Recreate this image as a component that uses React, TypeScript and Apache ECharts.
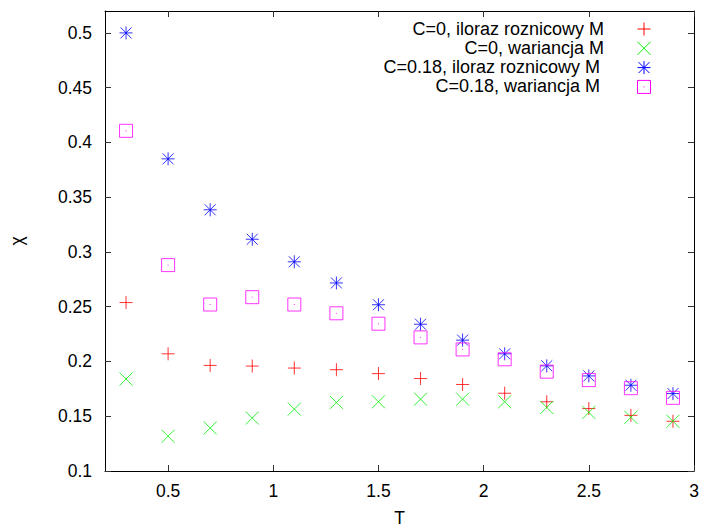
import React, { useEffect, useRef } from "react";
import * as echarts from "echarts";

const T = [0.3, 0.5, 0.7, 0.9, 1.1, 1.3, 1.5, 1.7, 1.9, 2.1, 2.3, 2.5, 2.7, 2.9];
const iloraz0 = [0.2538, 0.207, 0.1964, 0.1958, 0.194, 0.1925, 0.1889, 0.1844, 0.179, 0.171, 0.1632, 0.157, 0.1508, 0.1454];
const wariancja0 = [0.184, 0.1317, 0.1393, 0.1484, 0.1565, 0.1626, 0.1632, 0.1656, 0.1656, 0.1632, 0.158, 0.1535, 0.149, 0.1454];
const iloraz018 = [0.5, 0.385, 0.3385, 0.3116, 0.291, 0.2717, 0.2518, 0.234, 0.2195, 0.207, 0.196, 0.1868, 0.1783, 0.1707];
const wariancja018 = [0.4106, 0.288, 0.252, 0.2587, 0.252, 0.244, 0.2345, 0.222, 0.211, 0.202, 0.1907, 0.183, 0.1756, 0.1668];

const xTicks = [0.5, 1, 1.5, 2, 2.5, 3];
const yTicks = [0.1, 0.15, 0.2, 0.25, 0.3, 0.35, 0.4, 0.45, 0.5];

const seriesNames = [
  "C=0, iloraz roznicowy M",
  "C=0, wariancja M",
  "C=0.18, iloraz roznicowy M",
  "C=0.18, wariancja M",
];
const colors = ["#ff0000", "#00ee00", "#0000ff", "#ff00ff"];
const symbols = [
  "path://M0,6.5L13,6.5M6.5,0L6.5,13",
  "path://M0,0L13,13M13,0L0,13",
  "path://M0,6.5L13,6.5M6.5,0L6.5,13M1,1L12,12M12,1L1,12",
  "path://M0,0L13,0L13,13L0,13ZM6.5,6L6.5,7",
];
const seriesData = [iloraz0, wariancja0, iloraz018, wariancja018];

const FONT = "'Liberation Sans', Arial, sans-serif";

function legendMarker(i: number, cx: number, cy: number): any[] {
  const h = 6.5;
  const st = { stroke: colors[i], lineWidth: 1, fill: "none" };
  const ln = (x1: number, y1: number, x2: number, y2: number) => ({
    type: "line",
    shape: { x1, y1, x2, y2 },
    style: st,
  });
  if (i === 0) return [ln(cx - h, cy, cx + h, cy), ln(cx, cy - h, cx, cy + h)];
  if (i === 1) return [ln(cx - h, cy - h, cx + h, cy + h), ln(cx + h, cy - h, cx - h, cy + h)];
  if (i === 2)
    return [
      ln(cx - h, cy, cx + h, cy),
      ln(cx, cy - h, cx, cy + h),
      ln(cx - 5.5, cy - 5.5, cx + 5.5, cy + 5.5),
      ln(cx + 5.5, cy - 5.5, cx - 5.5, cy + 5.5),
    ];
  return [
    { type: "rect", shape: { x: cx - h, y: cy - h, width: 13, height: 13 }, style: st },
    ln(cx, cy - 0.5, cx, cy + 0.5),
  ];
}

export default function App() {
  const ref = useRef<HTMLDivElement>(null);
  useEffect(() => {
    if (!ref.current) return;
    const chart = echarts.init(ref.current, undefined, { renderer: "svg" });
    const legendY = [28.5, 47.8, 67.1, 86.4];
    const legendRight = [604, 604, 600, 600];
    const graphics: any[] = [];
    seriesNames.forEach((n, i) => {
      graphics.push({
        type: "text",
        style: {
          text: n,
          x: legendRight[i],
          y: legendY[i],
          align: "right",
          verticalAlign: "middle",
          fontSize: 18,
          fontFamily: FONT,
          fill: "#000",
        },
      });
      legendMarker(i, 644, legendY[i] + 0.5).forEach((g) => graphics.push(g));
    });

    const axisLine = { show: true, lineStyle: { color: "#000", width: 1 } };
    const tickStyle = { color: "#333", width: 1 };
    chart.setOption({
      animation: false,
      backgroundColor: "#fff",
      grid: { left: 102.5, right: 8, top: 11, bottom: 58.5, containLabel: false },
      xAxis: [
        {
          type: "value",
          min: 0.2,
          max: 3,
          position: "bottom",
          name: "T",
          nameLocation: "middle",
          nameGap: 38,
          nameTextStyle: { fontSize: 17.5, fontFamily: FONT, color: "#000" },
          axisLine,
          axisTick: { show: true, inside: true, length: 6, customValues: xTicks, lineStyle: tickStyle },
          axisLabel: { customValues: xTicks, fontSize: 17.5, fontFamily: FONT, color: "#000", margin: 11 },
          splitLine: { show: false },
        },
        {
          type: "value",
          min: 0.2,
          max: 3,
          position: "top",
          axisLine,
          axisTick: { show: true, inside: true, length: 6, customValues: xTicks, lineStyle: tickStyle },
          axisLabel: { show: false },
          splitLine: { show: false },
        },
      ],
      yAxis: [
        {
          type: "value",
          min: 0.1,
          max: 0.52,
          position: "left",
          name: "χ",
          nameLocation: "middle",
          nameGap: 79,
          nameTextStyle: { fontSize: 17.5, fontFamily: FONT, color: "#000" },
          axisLine,
          axisTick: { show: true, inside: true, length: 6, customValues: yTicks, lineStyle: tickStyle },
          axisLabel: { customValues: yTicks, fontSize: 17.5, fontFamily: FONT, color: "#000", margin: 13 },
          splitLine: { show: false },
        },
        {
          type: "value",
          min: 0.1,
          max: 0.52,
          position: "right",
          axisLine,
          axisTick: { show: true, inside: true, length: 6, customValues: yTicks, lineStyle: tickStyle },
          axisLabel: { show: false },
          splitLine: { show: false },
        },
      ],
      series: seriesNames.map((n, i) => ({
        name: n,
        type: "scatter",
        xAxisIndex: 0,
        yAxisIndex: 0,
        symbol: symbols[i],
        symbolSize: 13,
        itemStyle: { color: "rgba(0,0,0,0)", borderColor: colors[i], borderWidth: 1 },
        emphasis: { disabled: true },
        data: T.map((t, k) => [t, seriesData[i][k]]),
      })),
      graphic: graphics,
    });
    return () => chart.dispose();
  }, []);
  return (
    <div
      ref={ref}
      style={{ position: "fixed", left: 0, top: 0, width: 702, height: 532, background: "#fff" }}
    />
  );
}
